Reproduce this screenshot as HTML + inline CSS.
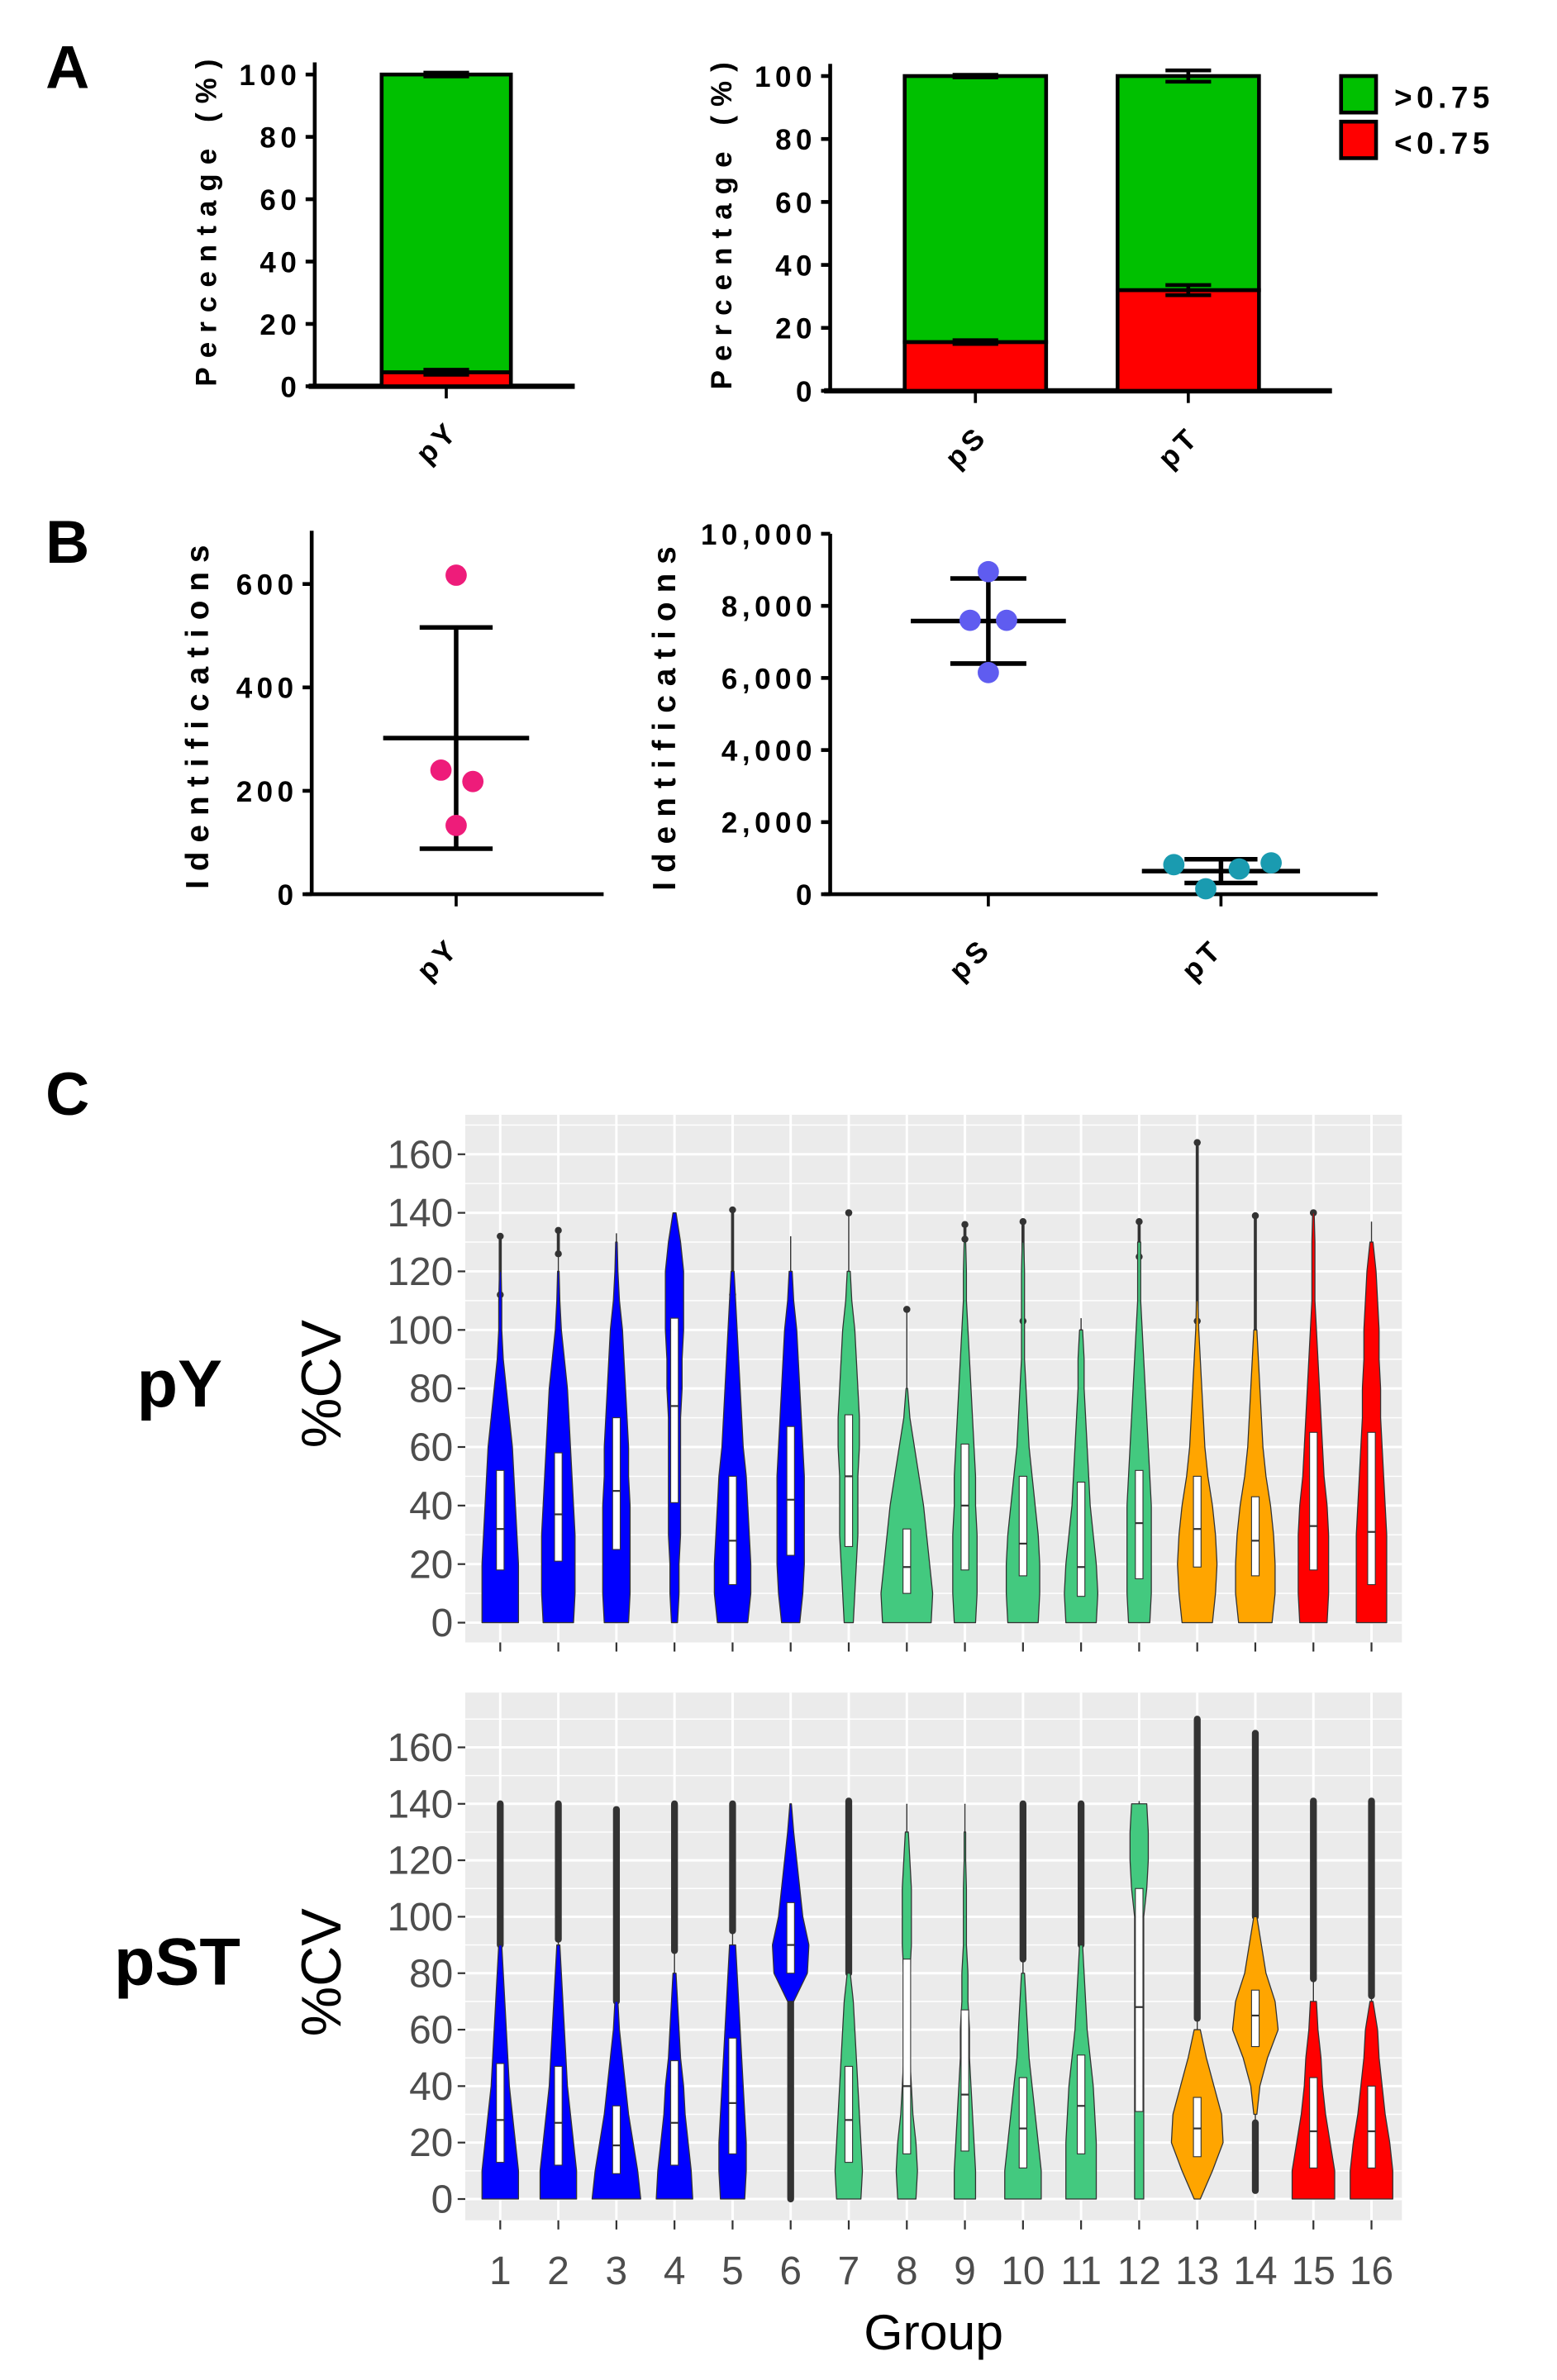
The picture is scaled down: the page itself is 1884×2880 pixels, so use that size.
<!DOCTYPE html>
<html><head><meta charset="utf-8"><style>
html,body{margin:0;padding:0;background:#fff;}
svg{display:block;}
text{font-family:"Liberation Sans",sans-serif;}
.bt{font-weight:bold;fill:#000;letter-spacing:3px;}
.ttl{letter-spacing:6px;}
.ct{fill:#4d4d4d;font-size:26px;}
</style></head><body>
<svg id="fig" width="1884" height="2880" viewBox="0 0 1024 1565" preserveAspectRatio="none" xmlns="http://www.w3.org/2000/svg">
<g id="root"></g>
</svg>
<script>
// ---------- Panel A data ----------
const aLeftCats = ["pY"];
const aLeftLow = [4.5];
const aLeftLowErr = [0.8];
const aLeftHighErr = [0.6];
const aRightCats = ["pS","pT"];
const aRightLow = [15.5, 32];
const aRightLowErr = [0.6, 1.6];
const aRightHighErr = [0.4, 1.8];
const aTicks = [0,20,40,60,80,100];
// ---------- Panel B data ----------
const bLeftPoints = [617, 240, 218, 133];
const bLeftMean = [302];
const bLeftSD = [214];
const bLeftTicks = [0,200,400,600];
const bPSPoints = [8950, 7600, 7600, 6150];
const bPTPoints = [820, 150, 700, 870];
const bRightMean = [7580, 640];
const bRightSD = [1180, 330];
const bRightTicks = [0,2000,4000,6000,8000,10000];
const bRightTickLabels = ["0","2,000","4,000","6,000","8,000","10,000"];
// ---------- Panel C data ----------
const groups = [1,2,3,4,5,6,7,8,9,10,11,12,13,14,15,16];
const groupColors = ["#0000ff","#0000ff","#0000ff","#0000ff","#0000ff","#0000ff","#43c97f","#43c97f","#43c97f","#43c97f","#43c97f","#43c97f","#ffa500","#ffa500","#ff0000","#ff0000"];
const cTicks = [0,20,40,60,80,100,120,140,160];
// density half-widths sampled at %CV = 0,10,20,...,160
const pyDensity = [
 [12,12,12,11,10,9,8,6,4,2,1,1,0.5,0,0,0,0],
 [10,11,11,11,10,9,8,7,6,4,2,1,0.5,0,0,0,0],
 [8,9,9,9,9,8,8,7,6,5,4,2,1,0.5,0,0,0],
 [2,3,3,4,4,4,4,4,5,5,6,6,6,4,1,0,0],
 [10,12,12,11,10,9,7,6,5,4,3,2,1,0,0,0,0],
 [6,8,9,9,9,9,8,7,6,5,4,2,1,0,0,0,0],
 [3,4,5,6,6,6,7,7,6,5,4,2,1,0,0,0,0],
 [16,17,15,13,11,8,5,2,0.5,0,0,0,0,0,0,0,0],
 [7,8,8,8,7,7,6,5,4,3,2,1,1,0.5,0,0,0],
 [10,11,11,10,8,6,4,3,2,1,1,1,1,0.5,0,0,0],
 [10,11,10,8,6,5,4,3,2,2,1,0,0,0,0,0,0],
 [7,8,8,8,8,7,6,5,4,3,2,1,1,1,0,0,0],
 [10,12,13,12,10,7,5,4,3,2,1,0.5,0,0,0,0,0],
 [11,13,13,12,10,7,5,4,3,2,1,0,0,0,0,0,0],
 [9,10,10,10,9,7,6,5,4,3,2,1,1,1,0.5,0,0],
 [10,10,10,10,9,8,7,6,6,5,5,4,3,1,0,0,0]
];
const pyQ1 = [18,21,25,41,13,23,26,10,18,16,9,15,19,16,18,13];
const pyMed = [32,37,45,74,28,42,50,19,40,27,19,34,32,28,33,31];
const pyQ3 = [52,58,70,104,50,67,71,32,61,50,48,52,50,43,65,65];
const pyMax = [132,134,133,140,141,132,140,107,136,137,104,137,164,139,140,137];
const pyOutLo = [112,126,0,0,112,0,140,107,131,103,0,125,103,85,140,0];
const pySt = ["pts","pts","none","none","pts","none","pts","pts","pts","pts","none","pts","pts","pts","pts","none"];
const pstDensity = [
 [12,12,10,8,6,5,4,3,2,1,0,0,0,0,0,0,0],
 [12,12,10,8,6,5,4,3,2,1,0,0,0,0,0,0,0],
 [16,14,11,8,6,4,2,1,0,0,0,0,0,0,0,0,0],
 [12,11,9,7,6,4,3,2,1,0,0,0,0,0,0,0,0],
 [8,9,9,8,7,6,5,4,3,2,0,0,0,0,0,0,0],
 [0,0,0,0,0,0,0,2,11,12,8,6,4,2,0.5,0,0],
 [8,9,8,7,6,5,4,3,1,0,0,0,0,0,0,0,0],
 [6,7,6,4,3,2,2,2,2,3,3,3,2,1,0,0,0],
 [7,7,6,5,4,3,3,2,2,1,1,1,0.5,0.5,0,0,0],
 [12,12,10,8,6,4,3,2,1,0,0,0,0,0,0,0,0],
 [10,10,10,9,8,6,4,3,2,1,0,0,0,0,0,0,0],
 [3,3,3,3,3,3,3,3,3,3,3,5,6,6,5,0,0],
 [2,10,17,16,11,6,2,0,0,0,0,0,0,0,0,0,0],
 [0,0,0,1,3,8,15,13,7,4,1,0,0,0,0,0,0],
 [14,14,11,8,6,5,3,2,0,0,0,0,0,0,0,0,0],
 [14,14,12,9,7,5,4,1,0,0,0,0,0,0,0,0,0]
];
const pstQ1 = [13,12,9,12,16,80,13,16,17,11,16,31,15,54,11,11];
const pstMed = [28,27,19,27,34,90,28,40,37,25,33,68,25,65,24,24];
const pstQ3 = [48,47,33,49,57,105,47,85,67,43,51,110,36,74,43,40];
const pstMin = [0,0,0,0,0,0,0,0,0,0,0,0,0,3,0,0];
const pstMax = [140,140,138,140,140,140,141,140,140,140,140,141,170,165,141,141];
const pstOutLo = [90,92,70,88,95,0,80,0,0,85,90,0,64,100,78,72];
const pstOutHi = [140,140,138,140,140,72,141,0,0,140,140,0,170,165,141,141];
const pstOutLo2 = [0,0,0,0,0,0,0,0,0,0,0,0,0,3,0,0];
const pstOutHi2 = [0,0,0,0,0,0,0,0,0,0,0,0,0,27,0,0];

const NS="http://www.w3.org/2000/svg";
const root=document.getElementById('root');
function mk(tag,attrs,parent,txt){const e=document.createElementNS(NS,tag);for(const k in attrs)e.setAttribute(k,attrs[k]);if(txt!==undefined)e.textContent=txt;(parent||root).appendChild(e);return e;}

// Panel letters
let t;
t=mk('text',{x:30,y:58,'font-size':40,'font-weight':'bold'},root,'A');


t=mk('text',{x:30,y:370,'font-size':40,'font-weight':'bold'},root,'B');


t=mk('text',{x:30,y:733,'font-size':40,'font-weight':'bold'},root,'C');



// ---- Panel A ----
function stackChart(name,ax,x1,yTop,y0,cats,low,lowErr,highErr,barX,barW){
  const g=mk('g',{});
  
  
  const ys=v=>y0-(y0-yTop)*v/100;
  mk('line',{x1:ax,y1:yTop-8,x2:ax,y2:y0,stroke:'#000','stroke-width':2.5},g);
  mk('line',{x1:ax-4,y1:y0,x2:x1,y2:y0,stroke:'#000','stroke-width':3.5},g);
  aTicks.forEach(v=>{
    mk('line',{x1:ax-6,y1:ys(v),x2:ax,y2:ys(v),stroke:'#000','stroke-width':2.5},g);
    const tt=mk('text',{x:ax-9,y:ys(v)+7,'text-anchor':'end','font-size':19,class:'bt'},g,String(v));
    
    
  });
  cats.forEach((c,i)=>{
    const bx=barX[i];
    const r=mk('rect',{x:bx,y:ys(low[i]),width:barW,height:y0-ys(low[i]),fill:'#ff0000',stroke:'#000','stroke-width':2.5},g);
    
    
    const gr=mk('rect',{x:bx,y:ys(100),width:barW,height:ys(low[i])-ys(100),fill:'#00c000',stroke:'#000','stroke-width':2.5},g);
    
    
    const cx=bx+barW/2;
    [[low[i],lowErr[i]],[100,highErr[i]]].forEach(([v,e])=>{
      mk('line',{x1:cx,y1:ys(v-e),x2:cx,y2:ys(v+e),stroke:'#000','stroke-width':2.5},g);
      mk('line',{x1:cx-15,y1:ys(v-e),x2:cx+15,y2:ys(v-e),stroke:'#000','stroke-width':2.5},g);
      mk('line',{x1:cx-15,y1:ys(v+e),x2:cx+15,y2:ys(v+e),stroke:'#000','stroke-width':2.5},g);
    });
    mk('line',{x1:cx,y1:y0,x2:cx,y2:y0+8,stroke:'#000','stroke-width':2},g);
    const lt=mk('text',{x:0,y:0,'font-size':19,class:'bt',transform:`translate(${cx-12},${y0+52}) rotate(-45)`},g,c);
    
    
  });
  const yl=mk('text',{x:0,y:0,'font-size':19,class:'bt ttl','text-anchor':'middle',transform:`translate(${ax-65},${(yTop+y0)/2-8}) rotate(-90)`},g,'Percentage (%)');
  
  
}
stackChart('chart-a-left',207,378,49,254,aLeftCats,aLeftLow,aLeftLowErr,aLeftHighErr,[251],85);
stackChart('chart-a-right',546,876,50,257,aRightCats,aRightLow,aRightLowErr,aRightHighErr,[595,735],93);
// legend
[['#00c000','>0.75',50],['#ff0000','<0.75',80]].forEach(([c,l,y])=>{
  const r=mk('rect',{x:882,y:y,width:23,height:24,fill:c,stroke:'#000','stroke-width':2.5});
  
  
  const tt=mk('text',{x:917,y:y+21,'font-size':20,class:'bt'},root,l);
  
  
});

// ---- Panel B ----
function scatterChart(name,ax,x1,y0,yTop,maxV,ticks,tickLabels,sets,titleOff){
  const g=mk('g',{});
  
  
  const ys=v=>y0-(y0-yTop)*v/maxV;
  mk('line',{x1:ax,y1:yTop,x2:ax,y2:y0,stroke:'#000','stroke-width':2.5},g);
  mk('line',{x1:ax-4,y1:y0,x2:x1,y2:y0,stroke:'#000','stroke-width':2.5},g);
  ticks.forEach((v,i)=>{
    mk('line',{x1:ax-6,y1:ys(v),x2:ax,y2:ys(v),stroke:'#000','stroke-width':2.5},g);
    const tt=mk('text',{x:ax-9,y:ys(v)+7,'text-anchor':'end','font-size':19,class:'bt'},g,tickLabels[i]);
    
    
  });
  sets.forEach(s=>{
    const cx=s.x;
    mk('line',{x1:cx-s.mw,y1:ys(s.mean),x2:cx+s.mw,y2:ys(s.mean),stroke:'#000','stroke-width':3},g);
    mk('line',{x1:cx,y1:ys(s.mean-s.sd),x2:cx,y2:ys(s.mean+s.sd),stroke:'#000','stroke-width':3},g);
    mk('line',{x1:cx-s.cw,y1:ys(s.mean-s.sd),x2:cx+s.cw,y2:ys(s.mean-s.sd),stroke:'#000','stroke-width':3},g);
    mk('line',{x1:cx-s.cw,y1:ys(s.mean+s.sd),x2:cx+s.cw,y2:ys(s.mean+s.sd),stroke:'#000','stroke-width':3},g);
    s.pts.forEach((v,i)=>{
      const p=mk('circle',{cx:cx+s.jit[i],cy:ys(v),r:7,fill:s.color},g);
      
      
    });
    mk('line',{x1:cx,y1:y0,x2:cx,y2:y0+8,stroke:'#000','stroke-width':2},g);
    const lt=mk('text',{x:0,y:0,'font-size':19,class:'bt',transform:`translate(${cx-18},${y0+58}) rotate(-45)`},g,s.name);
    
    
  });
  const yl=mk('text',{x:0,y:0,'font-size':21,class:'bt ttl','text-anchor':'middle',transform:`translate(${ax-titleOff},${(yTop+y0)/2}) rotate(-90)`},g,'Identifications');
  
  
}
scatterChart('chart-b-left',205,397,588,349,703,bLeftTicks,bLeftTicks.map(String),
  [{name:'pY',x:300,pts:bLeftPoints,jit:[0,-10,11,0],mean:bLeftMean[0],sd:bLeftSD[0],mw:48,cw:24,color:'#ee1c7a'}],68);
scatterChart('chart-b-right',546,906,588,351,10000,bRightTicks,bRightTickLabels,
  [{name:'pS',x:650,pts:bPSPoints,jit:[0,-12,12,0],mean:bRightMean[0],sd:bRightSD[0],mw:51,cw:25,color:'#5f5cf0'},
   {name:'pT',x:803,pts:bPTPoints,jit:[-31,-10,12,33],mean:bRightMean[1],sd:bRightSD[1],mw:52,cw:24,color:'#1a9bb0'}],102);

// ---- Panel C ----
function violinChart(name,yTop,yBot,y0,y160,dens,q1,med,q3,drawOut){
  const g=mk('g',{});
  
  
  const ys=v=>y0-(y0-y160)*v/160;
  const xs=i=>329+(902-329)*i/15;
  mk('rect',{x:306,y:yTop,width:616,height:yBot-yTop,fill:'#ebebeb'},g);
  for(let v=10;v<=170;v+=20){ if(ys(v)>yTop) mk('line',{x1:306,y1:ys(v),x2:922,y2:ys(v),stroke:'#fff','stroke-width':0.8},g);}
  cTicks.forEach(v=>{
    mk('line',{x1:306,y1:ys(v),x2:922,y2:ys(v),stroke:'#fff','stroke-width':1.6},g);
    mk('line',{x1:301,y1:ys(v),x2:306,y2:ys(v),stroke:'#333','stroke-width':1.2},g);
    const tt=mk('text',{x:298,y:ys(v)+9,'text-anchor':'end',class:'ct'},g,String(v));
    
    
  });
  groups.forEach((gr,i)=>{
    mk('line',{x1:xs(i),y1:yTop,x2:xs(i),y2:yBot,stroke:'#fff','stroke-width':1.6},g);
    mk('line',{x1:xs(i),y1:yBot,x2:xs(i),y2:yBot+6,stroke:'#333','stroke-width':1.2},g);
  });
  groups.forEach((gr,i)=>{
    const vg=mk('g',{},g);
    
    
    const cx=xs(i), d=dens[i];
    drawOut(vg,i,cx,ys);
    let s=d.findIndex(w=>w>0), e=d.length-1; while(d[e]<=0)e--;
    let L=[],R=[];
    for(let k=s;k<=e;k++){L.push([cx-d[k],ys(k*10)]);R.push([cx+d[k],ys(k*10)]);}
    const pts=L.concat(R.reverse()).map(p=>p.join(',')).join(' ');
    const vp=mk('polygon',{points:pts,fill:groupColors[i],stroke:'#333','stroke-width':0.7,'stroke-linejoin':'round'},vg);
    
    
    const b=mk('rect',{x:cx-2.5,y:ys(q3[i]),width:5,height:ys(q1[i])-ys(q3[i]),fill:'#fff',stroke:'#333','stroke-width':0.6},vg);
    
    
    mk('line',{x1:cx-2.5,y1:ys(med[i]),x2:cx+2.5,y2:ys(med[i]),stroke:'#333','stroke-width':1.2},vg);
  });
}
violinChart('violin-chart-py',733,1080,1067,759,pyDensity,pyQ1,pyMed,pyQ3,(vg,i,cx,ys)=>{
  mk('line',{x1:cx,y1:ys(0),x2:cx,y2:ys(pyMax[i]),stroke:'#333','stroke-width':0.8},vg);
  if(pySt[i]==='pts'){
    mk('line',{x1:cx,y1:ys(pyOutLo[i]),x2:cx,y2:ys(pyMax[i]),stroke:'#333','stroke-width':2},vg);
    [pyOutLo[i],pyMax[i]].forEach(v=>mk('circle',{cx:cx,cy:ys(v),r:2.3,fill:'#333'},vg));
  }
});
violinChart('violin-chart-pst',1113,1460,1446,1149,pstDensity,pstQ1,pstMed,pstQ3,(vg,i,cx,ys)=>{
  mk('line',{x1:cx,y1:ys(pstMin[i]),x2:cx,y2:ys(pstMax[i]),stroke:'#333','stroke-width':0.8},vg);
  if(pstOutHi[i]>0){
    mk('line',{x1:cx,y1:ys(pstOutLo[i]),x2:cx,y2:ys(pstOutHi[i]),stroke:'#333','stroke-width':4.5,'stroke-linecap':'round'},vg);
  }
  if(pstOutHi2[i]>0){
    mk('line',{x1:cx,y1:ys(pstOutLo2[i]),x2:cx,y2:ys(pstOutHi2[i]),stroke:'#333','stroke-width':4.5,'stroke-linecap':'round'},vg);
  }
});
groups.forEach((gr,i)=>{
  const tt=mk('text',{x:329+(902-329)*i/15,y:1502,'text-anchor':'middle',class:'ct','font-size':27},root,String(gr));
  
  
});
t=mk('text',{x:614,y:1545,'text-anchor':'middle','font-size':33},root,'Group');


[[910,'pY',90,925],[1297,'pST',75,1305]].forEach(([cy,l,lx,ly])=>{
  const a=mk('text',{x:0,y:0,'text-anchor':'middle','font-size':37,transform:`translate(224,${cy}) rotate(-90)`},root,'%CV');
  
  
  const b=mk('text',{x:lx,y:ly,'font-size':44,'font-weight':'bold'},root,l);
  
  
});
</script>
</body></html>
